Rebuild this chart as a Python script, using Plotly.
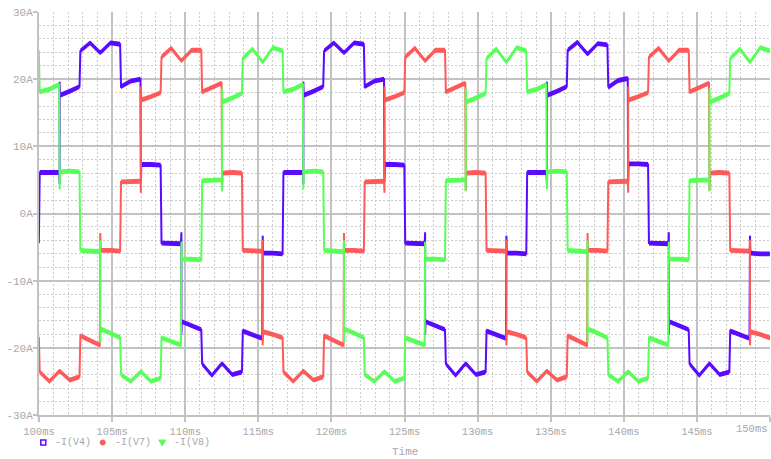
import plotly.graph_objects as go

# ----------------------------
# 1. Data
# ----------------------------
# switching instants (ms) - every step of the waveform is T/12 long (60 Hz)
SLOT_T = [98.63, 100.02, 101.41, 102.80, 104.19, 105.58, 106.97, 108.35, 109.74,
          111.13, 112.52, 113.91, 115.30, 116.69, 118.08, 119.47, 120.86, 122.25,
          123.63, 125.02, 126.41, 127.80, 129.19, 130.58, 131.97, 133.36, 134.74,
          136.13, 137.52, 138.91, 140.30, 141.69, 143.08, 144.47, 145.86, 147.25,
          148.63, 150.02]

# current in each step as (start, middle, end), A
I_V4 = [
    (-5.9, -5.9, -4.3), (6.1, 6.1, 6.1),
    (17.6, 18.2, 18.9), (24.2, 25.4, 24.0), (24.0, 25.4, 25.2), (18.9, 19.7, 20.0),
    (7.3, 7.3, 7.2), (-4.4, -4.5, -4.5), (-16.1, -16.7, -17.3), (-22.4, -24.1, -22.4),
    (-22.4, -24.0, -23.6), (-17.5, -18.0, -18.6), (-5.9, -5.9, -6.0), (6.1, 6.1, 6.1),
    (17.6, 18.2, 18.9), (24.2, 25.4, 24.0), (24.0, 25.4, 25.2), (18.9, 19.7, 20.0),
    (7.3, 7.3, 7.2), (-4.4, -4.5, -4.5), (-16.1, -16.7, -17.3), (-22.4, -24.1, -22.4),
    (-22.4, -24.0, -23.6), (-17.5, -18.0, -18.6), (-5.9, -5.9, -6.0), (6.1, 6.1, 6.1),
    (17.6, 18.2, 18.9), (24.3, 25.5, 23.8), (23.8, 25.3, 25.1), (18.8, 19.8, 20.1),
    (7.4, 7.4, 7.3), (-4.4, -4.4, -4.5), (-16.1, -16.7, -17.3), (-22.4, -24.1, -22.4),
    (-22.4, -24.0, -23.6), (-17.5, -18.0, -18.6), (-5.9, -6.0, -6.0),
]

I_V7 = [
    (-17.6, -18.0, -18.5), (-23.6, -25.0, -23.5), (-23.5, -24.8, -24.3),
    (-18.2, -18.9, -19.6), (-5.5, -5.5, -5.6), (4.7, 4.8, 4.8),
    (16.9, 17.4, 18.0), (23.3, 24.6, 22.8), (22.8, 24.3, 24.3), (18.1, 18.7, 19.4),
    (6.0, 6.1, 6.0), (-5.5, -5.5, -5.6), (-17.6, -18.0, -18.5), (-23.6, -25.0, -23.5),
    (-23.5, -24.8, -24.3), (-18.2, -18.9, -19.6), (-5.5, -5.5, -5.6), (4.7, 4.8, 4.8),
    (16.9, 17.4, 18.0), (23.3, 24.6, 22.8), (22.8, 24.3, 24.3), (18.1, 18.7, 19.4),
    (6.0, 6.1, 6.0), (-5.5, -5.5, -5.6), (-17.6, -18.0, -18.5), (-23.6, -25.0, -23.5),
    (-23.5, -24.8, -24.3), (-18.2, -18.9, -19.6), (-5.5, -5.5, -5.6), (4.7, 4.8, 4.8),
    (16.9, 17.4, 18.0), (23.3, 24.6, 22.8), (22.8, 24.3, 24.3), (18.1, 18.7, 19.4),
    (6.0, 6.1, 6.0), (-5.5, -5.5, -5.6), (-17.6, -18.0, -18.5),
]

I_V8 = [
    (22.6, 24.7, 24.2), (18.1, 18.5, 19.2), (6.2, 6.3, 6.2), (-5.5, -5.6, -5.7),
    (-17.2, -17.8, -18.5), (-24.0, -25.0, -23.6), (-23.6, -25.0, -24.5),
    (-18.5, -19.0, -19.6), (-6.8, -6.8, -6.9), (4.9, 4.9, 5.0),
    (16.6, 17.2, 17.9), (23.1, 24.5, 22.6), (22.6, 24.7, 24.2), (18.1, 18.5, 19.2),
    (6.2, 6.3, 6.2), (-5.5, -5.6, -5.7), (-17.2, -17.8, -18.5), (-24.0, -25.0, -23.6),
    (-23.6, -25.0, -24.5), (-18.5, -19.0, -19.6), (-6.8, -6.8, -6.9), (4.9, 4.9, 5.0),
    (16.6, 17.2, 17.9), (23.1, 24.5, 22.6), (22.6, 24.7, 24.2), (18.1, 18.5, 19.2),
    (6.2, 6.3, 6.2), (-5.5, -5.6, -5.7), (-17.2, -17.8, -18.5), (-24.0, -25.0, -23.6),
    (-23.6, -25.0, -24.5), (-18.5, -19.0, -19.6), (-6.8, -6.8, -6.9), (4.9, 4.9, 5.0),
    (16.6, 17.2, 17.9), (23.1, 24.5, 22.6), (22.6, 24.7, 24.2),
]

SERIES = ["-I(V4)", "-I(V7)", "-I(V8)"]
COLORS = ["#5a0aff", "#ff5a5a", "#58ff58"]

X_TICKS = [100, 105, 110, 115, 120, 125, 130, 135, 140, 145, 150]
X_LABELS = ["100ms", "105ms", "110ms", "115ms", "120ms", "125ms", "130ms",
            "135ms", "140ms", "145ms", ""]  # 150ms is placed by hand at the edge
Y_TICKS = [-30, -20, -10, 0, 10, 20, 30]
Y_LABELS = ["-30A", "-20A", "-10A", "0A", "10A", "20A", "30A"]

NOISE = 0.36         # half thickness of the noisy band, A
MAJOR = "#c2c2c2"
MINOR = "#cccccc"
TEXT = "#a8a8a8"
FONT = "Liberation Mono"


def build(levels):
    """Turn the per-step levels into a stepped path with the switching spikes."""
    ts, ys = [], []
    prev = None
    for j, (a, b, c) in enumerate(levels):
        t0, t1 = SLOT_T[j], SLOT_T[j + 1]
        if prev is not None:
            if abs(a) > 12 and abs(prev) < 12:      # middle -> outer band
                s = 1 if a > 0 else -1
                ts += [t0, t0]
                ys += [prev - 1.7 * s, a + 2.0 * s]
            elif abs(a) < 12 and abs(prev) > 12:    # outer -> middle band
                s = 1 if prev > 0 else -1
                ts += [t0]
                ys += [a - 2.6 * s]
        ts += [t0 + 0.03, (t0 + t1) / 2, t1 - 0.03]
        ys += [a, b, c]
        prev = c
    return ts, ys


# ----------------------------
# 2. Figure
# ----------------------------
fig = go.Figure()
for name, lv, col in zip(SERIES, [I_V4, I_V7, I_V8], COLORS):
    t, cur = build(lv)
    fig.add_trace(go.Scatter(x=t, y=[v + NOISE for v in cur], mode="lines",
                             line=dict(width=0), hoverinfo="skip", showlegend=False))
    fig.add_trace(go.Scatter(x=t, y=[v - NOISE for v in cur], mode="lines",
                             line=dict(width=0), fill="tonexty", fillcolor=col,
                             hoverinfo="skip", showlegend=False))
    fig.add_trace(go.Scatter(x=t, y=cur, mode="lines", name=name,
                             line=dict(color=col, width=2), showlegend=False))

# plot area in pixels: x 39..770, y 12..415
L, R, T, B = 39, 770, 12, 415


def px_x(px):
    return (px - L) / (R - L)


def px_y(py):
    return (B - py) / (B - T)


fig.update_layout(
    width=771, height=459,
    margin=dict(l=39, r=1, t=12, b=44),
    paper_bgcolor="white", plot_bgcolor="white",
    showlegend=False,
    font=dict(family=FONT, size=11, color=TEXT),
    xaxis=dict(
        range=[100, 150], tickmode="array", tickvals=X_TICKS, ticktext=X_LABELS,
        showgrid=True, gridcolor=MAJOR, gridwidth=1.5, zeroline=False, automargin=False,
        showline=True, linecolor=MAJOR, linewidth=2,
        ticks="outside", ticklen=5, tickwidth=2, tickcolor=MAJOR,
        tickfont=dict(size=10.5),
        minor=dict(tickmode="array", tickvals=[v for v in range(100, 151) if v % 5],
                   showgrid=True, gridcolor=MINOR, griddash="2px,2px", gridwidth=1),
    ),
    yaxis=dict(
        range=[-30, 30], tickmode="array", tickvals=Y_TICKS, ticktext=Y_LABELS,
        showgrid=True, gridcolor=MAJOR, gridwidth=1.5, zeroline=False, automargin=False,
        showline=True, linecolor=MAJOR, linewidth=2,
        ticks="outside", ticklen=4, tickwidth=2, tickcolor=MAJOR,
        ticklabelstandoff=-2,
        minor=dict(tickmode="array", tickvals=[v for v in range(-30, 31, 2) if v % 10],
                   showgrid=True, gridcolor=MINOR, griddash="2px,2px", gridwidth=1),
    ),
)

# last tick label pulled inside the window, axis title
fig.add_annotation(x=150, xref="x", y=px_y(429), yref="paper", text="150ms",
                   showarrow=False, xanchor="right", yanchor="middle",
                   font=dict(size=10.5))
fig.add_annotation(x=0.5, xref="paper", y=px_y(452), yref="paper", text="Time",
                   showarrow=False, xanchor="center", yanchor="middle")

# legend drawn by hand (symbol + label)
LEG_Y = px_y(442.5)
sym_x = [43.3, 102.7, 162.3]
txt_x = [53, 113, 172]
fig.add_shape(type="rect", xref="paper", yref="paper", xsizemode="pixel", ysizemode="pixel",
              xanchor=px_x(sym_x[0]), yanchor=LEG_Y, x0=-2.5, x1=2.5, y0=-2.5, y1=2.5,
              line=dict(color=COLORS[0], width=1.5), fillcolor="white")
fig.add_shape(type="circle", xref="paper", yref="paper", xsizemode="pixel", ysizemode="pixel",
              xanchor=px_x(sym_x[1]), yanchor=LEG_Y, x0=-2.5, x1=2.5, y0=-2.5, y1=2.5,
              line=dict(color=COLORS[1], width=1), fillcolor=COLORS[1])
fig.add_shape(type="path", xref="paper", yref="paper", xsizemode="pixel", ysizemode="pixel",
              xanchor=px_x(sym_x[2]), yanchor=LEG_Y, path="M -3.5,2.5 L 3.5,2.5 L 0,-3.5 Z",
              line=dict(color=COLORS[2], width=1), fillcolor=COLORS[2])
for name, x in zip(SERIES, txt_x):
    fig.add_annotation(x=px_x(x), xref="paper", y=LEG_Y, yref="paper", text=name,
                       showarrow=False, xanchor="left", yanchor="middle",
                       font=dict(family=FONT, size=10, color=TEXT))

# the page body has a default 8px margin - drop it so the figure sits at 0,0
fig.write_html("out.html", config={"displayModeBar": False},
               post_script="document.body.style.margin='0px';")
